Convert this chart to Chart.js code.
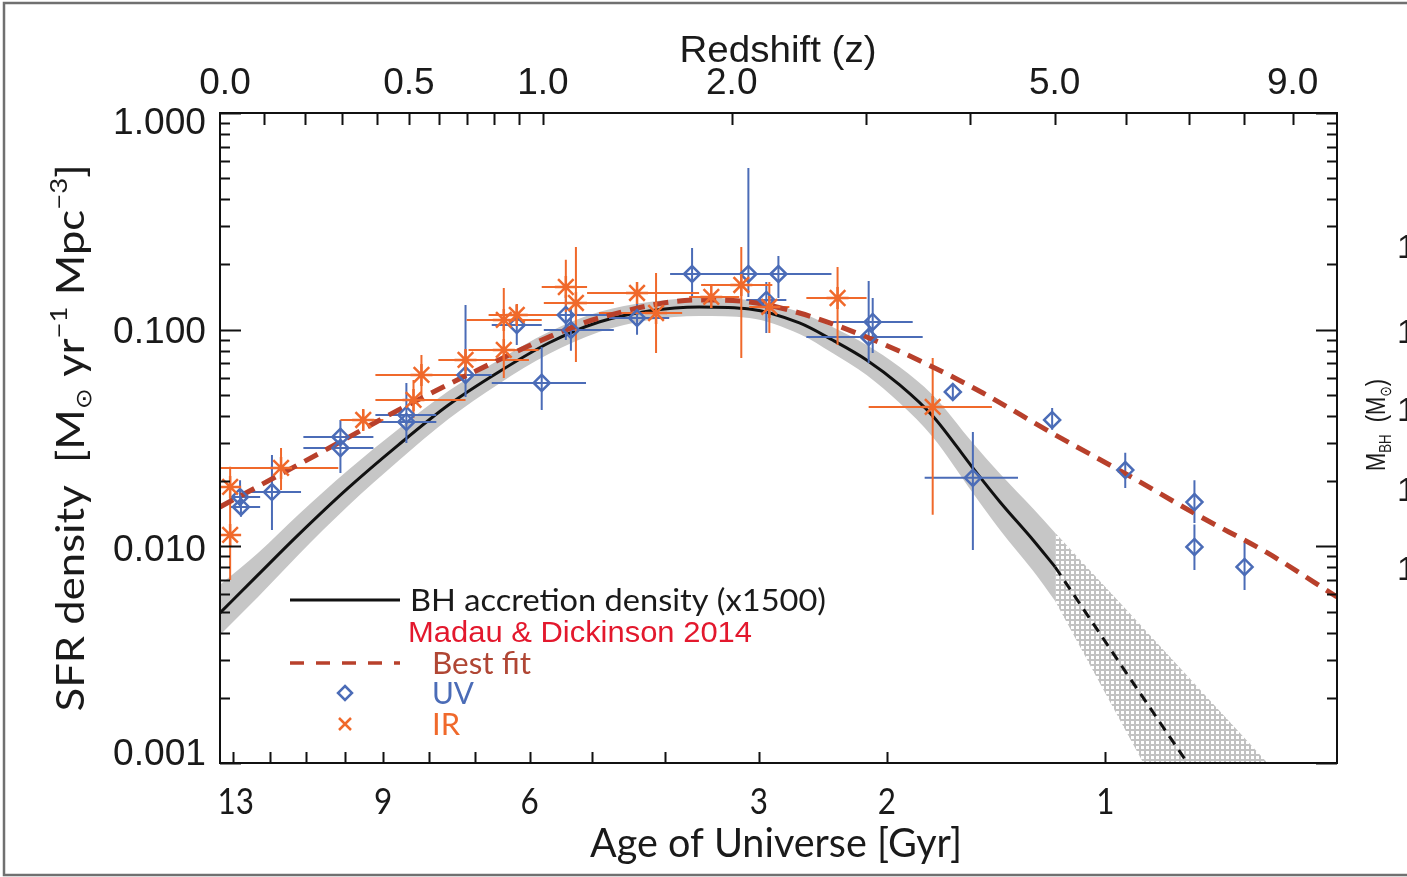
<!DOCTYPE html>
<html>
<head>
<meta charset="utf-8">
<script src="https://cdn.jsdelivr.net/npm/chart.js@4.4.1/dist/chart.umd.min.js"></script>
<style>
  html, body { margin: 0; padding: 0; background: #fff; }
  #chart { display: block; }
</style>
</head>
<body>
<canvas id="chart" width="1407" height="877"></canvas>
<script>
// ================= DATA (redshift z, SFR density) =================
// BH accretion density curve (x1500) and its grey band
const bhZ     = [0, 0.085, 0.183, 0.317, 0.467, 0.633, 0.819, 1.025, 1.256, 1.512, 1.797, 2.115, 2.469, 2.724, 3.007, 3.302, 3.618, 4.034, 4.336, 4.728, 5.006];
const bhVal   = [0.00493, 0.00738, 0.01129, 0.0186, 0.0294, 0.0449, 0.0638, 0.0868, 0.1085, 0.1220, 0.1273, 0.1246, 0.1074, 0.0896, 0.0725, 0.0556, 0.0400, 0.0230, 0.01603, 0.01070, 0.00803];
const bandUp  = [0.00664, 0.00932, 0.0140, 0.0225, 0.0348, 0.0521, 0.0725, 0.0976, 0.1207, 0.1342, 0.1401, 0.1371, 0.1207, 0.1029, 0.0850, 0.0673, 0.0500, 0.0300, 0.0216, 0.01495, 0.01154];
const bandLo  = [0.00390, 0.00584, 0.00913, 0.0154, 0.0248, 0.0387, 0.0562, 0.0772, 0.0976, 0.1109, 0.1157, 0.1132, 0.0955, 0.0780, 0.0618, 0.0459, 0.0320, 0.01763, 0.0119, 0.00771, 0.00560];
// extrapolated part (dashed) and hatched uncertainty
const bhExtZ    = [5.006, 6.0, 6.98];
const bhExtVal  = [0.00803, 0.0026, 0.001];
const hatchZ    = [5.006, 6.258, 8.476];
const hatchUp   = [0.01154, 0.0042, 0.001];
const hatchLo   = [0.00560, 0.001, 0.001];

// Madau & Dickinson 2014 best fit
const mdZ   = [0, 0.27, 0.467, 0.819, 1.101, 1.256, 1.797, 2.115, 2.469, 3.007, 3.618, 4.144, 4.942, 6.013, 7.204, 8.476, 10.0];
const mdVal = [0.0152, 0.0288, 0.0426, 0.0725, 0.0997, 0.1132, 0.1371, 0.1342, 0.1194, 0.0925, 0.0673, 0.0510, 0.0337, 0.0214, 0.0137, 0.00932, 0.00584];

// UV points
const uvZ    = [0.046, 0.044, 0.118, 0.295, 0.295, 0.492, 0.492, 0.694, 0.891, 0.995, 1.101, 1.124, 1.448, 1.755, 2.109, 2.316, 2.231, 3.060, 3.025, 3.822, 4.034, 4.968, 5.982, 7.10, 7.10, 8.02];
const uvVal  = [0.0152, 0.0169, 0.0178, 0.0320, 0.0284, 0.0404, 0.0375, 0.0618, 0.1051, 0.0568, 0.1169, 0.0997, 0.1132, 0.1807, 0.1807, 0.1807, 0.1371, 0.1085, 0.0925, 0.0516, 0.0207, 0.0383, 0.0225, 0.0160, 0.00994, 0.00803];
const uvZlo  = [0.022, 0.022, 0.055, 0.196, 0.196, 0.396, 0.396, 0.598, 0.792, 0.792, 1.004, 1.004, 1.305, 1.628, 1.828, 2.083, 2.095, 2.724, 2.521, 3.822, 3.539, 4.968, 5.982, 7.10, 7.10, 8.02];
const uvZhi  = [0.090, 0.090, 0.190, 0.390, 0.390, 0.591, 0.591, 0.792, 0.995, 1.194, 1.329, 1.329, 1.623, 1.921, 2.395, 2.716, 2.373, 3.424, 3.520, 3.822, 4.546, 4.968, 5.982, 7.10, 7.10, 8.02];
const uvLo   = [0.0137, 0.0152, 0.0119, 0.0264, 0.0218, 0.0337, 0.0300, 0.0489, 0.0850, 0.0426, 0.0896, 0.0800, 0.0948, 0.1416, 0.1416, 0.1400, 0.0965, 0.0780, 0.0702, 0.0484, 0.00962, 0.0345, 0.0186, 0.0128, 0.00778, 0.00629];
const uvHi   = [0.0170, 0.0202, 0.0264, 0.0383, 0.0345, 0.0568, 0.0460, 0.1300, 0.1300, 0.0832, 0.1446, 0.1250, 0.1328, 0.2380, 0.5570, 0.2188, 0.1660, 0.1400, 0.1678, 0.0558, 0.0337, 0.0435, 0.0270, 0.0202, 0.0126, 0.01037];

// IR points
const irZ    = [0.022, 0.022, 0.140, 0.360, 0.515, 0.541, 0.694, 0.839, 0.839, 0.891, 1.101, 1.147, 1.448, 1.550, 1.871, 2.062, 2.252, 2.765, 3.618];
const irVal  = [0.0188, 0.01129, 0.0230, 0.0383, 0.0474, 0.0618, 0.0725, 0.0806, 0.1109, 0.1169, 0.1574, 0.1328, 0.1477, 0.1194, 0.1416, 0.1608, 0.1273, 0.1400, 0.0440];
const irZlo  = [0.022, 0.022, 0.0, 0.295, 0.396, 0.396, 0.598, 0.705, 0.698, 0.780, 0.995, 1.004, 1.199, 1.256, 1.738, 1.809, 2.115, 2.521, 3.025];
const irZhi  = [0.022, 0.022, 0.289, 0.420, 0.694, 0.694, 0.941, 0.982, 0.995, 1.069, 1.199, 1.329, 1.797, 1.697, 2.049, 2.273, 2.395, 3.007, 4.244];
const irLo   = [0.0147, 0.0070, 0.0182, 0.0345, 0.0391, 0.0489, 0.0605, 0.0598, 0.0673, 0.1050, 0.1207, 0.0710, 0.1400, 0.0780, 0.1350, 0.0740, 0.0965, 0.0850, 0.0140];
const irHi   = [0.0233, 0.0147, 0.0284, 0.0426, 0.0586, 0.0764, 0.0806, 0.1051, 0.1558, 0.1300, 0.2100, 0.2407, 0.1600, 0.1826, 0.1480, 0.2407, 0.1660, 0.1947, 0.0740];

// axes
const zTicks      = [0.1, 0.2, 0.3, 0.4, 0.5, 0.6, 0.7, 0.8, 0.9, 1, 2, 3, 4, 5, 6, 7, 8, 9];
const zLabels     = ['0.0', '0.5', '1.0', '2.0', '5.0', '9.0'];
const zLabelAt    = [0, 0.5, 1, 2, 5, 9];
const ageTicks    = [13, 12, 11, 10, 9, 8, 7, 6, 5, 4, 3, 2, 1];
const ageTickZ    = [0.028, 0.113, 0.203, 0.308, 0.419, 0.567, 0.730, 0.944, 1.221, 1.598, 2.179, 3.186, 5.690];
const ageLabels   = ['13', '9', '6', '3', '2', '1'];
const yLabels     = ['1.000', '0.100', '0.010', '0.001'];

// ================= custom x scale: linear in log(1+z) =================
class RedshiftScale extends Chart.LinearScale {
  getPixelForValue(value) {
    const a = Math.log10(1 + this.min), b = Math.log10(1 + this.max);
    return this.getPixelForDecimal((Math.log10(1 + value) - a) / (b - a));
  }
  getValueForPixel(pixel) {
    const a = Math.log10(1 + this.min), b = Math.log10(1 + this.max);
    return Math.pow(10, a + this.getDecimalForPixel(pixel) * (b - a)) - 1;
  }
}
RedshiftScale.id = 'redshift';
RedshiftScale.defaults = Chart.LinearScale.defaults;
Chart.register(RedshiftScale);

const BLUE = '#4b6cb7';
const ORANGE = '#f0692b';
const BRICK = '#b8402b';
const SANS = '"Liberation Sans", Arial, sans-serif';
const CMS = 'Lato, "Noto Sans", sans-serif';

const pts = (xs, ys) => xs.map((x, i) => ({ x: x, y: ys[i] }));

function errorBars(z, v, zlo, zhi, lo, hi) {
  const out = [];
  z.forEach((zz, i) => {
    if (zhi[i] > zlo[i]) {
      out.push({ x: zlo[i], y: v[i] }, { x: zhi[i], y: v[i] }, { x: zhi[i], y: null });
    }
    out.push({ x: zz, y: lo[i] }, { x: zz, y: hi[i] }, { x: zz, y: null });
  });
  return out;
}

const ctx = document.getElementById('chart').getContext('2d');

// mesh pattern for the extrapolated region
const pc = document.createElement('canvas');
pc.width = 5; pc.height = 5;
const pctx = pc.getContext('2d');
pctx.fillStyle = '#c2c2c2';
pctx.fillRect(0, 0, 5, 5);
pctx.fillStyle = '#ffffff';
pctx.fillRect(1, 1, 3, 3);
const hatch = ctx.createPattern(pc, 'repeat');

const NONE = 'rgba(0,0,0,0)';

const datasets = [
  { label: 'band up', data: pts(bhZ, bandUp), showLine: true, borderColor: NONE, borderWidth: 0, pointRadius: 0,
    fill: 1, backgroundColor: '#c6c6c6', cubicInterpolationMode: 'monotone', order: 21 },
  { label: 'band lo', data: pts(bhZ, bandLo), showLine: true, borderColor: NONE, borderWidth: 0, pointRadius: 0,
    fill: false, cubicInterpolationMode: 'monotone', order: 22 },
  { label: 'hatch up', data: pts(hatchZ, hatchUp), showLine: true, borderColor: NONE, borderWidth: 0, pointRadius: 0,
    fill: 3, backgroundColor: hatch, order: 19 },
  { label: 'hatch lo', data: pts(hatchZ, hatchLo), showLine: true, borderColor: NONE, borderWidth: 0, pointRadius: 0,
    fill: false, order: 20 },
  { label: 'BH accretion density (x1500)', data: pts(bhZ, bhVal), showLine: true, borderColor: '#111', borderWidth: 3,
    pointRadius: 0, cubicInterpolationMode: 'monotone', order: 10 },
  { label: 'BH extrapolation', data: pts(bhExtZ, bhExtVal), showLine: true, borderColor: '#111', borderWidth: 3,
    borderDash: [10, 7], pointRadius: 0, order: 9 },
  { label: 'UV err', data: errorBars(uvZ, uvVal, uvZlo, uvZhi, uvLo, uvHi), showLine: true, spanGaps: false,
    borderColor: BLUE, borderWidth: 2, pointRadius: 0, order: 8 },
  { label: 'IR err', data: errorBars(irZ, irVal, irZlo, irZhi, irLo, irHi), showLine: true, spanGaps: false,
    borderColor: ORANGE, borderWidth: 2, pointRadius: 0, order: 7 },
  { label: 'Best fit', data: pts(mdZ, mdVal), showLine: true, borderColor: BRICK, borderWidth: 5,
    borderDash: [15, 9], pointRadius: 0, cubicInterpolationMode: 'monotone', order: 6 },
  { label: 'UV', data: pts(uvZ, uvVal), pointStyle: 'rectRot', pointRadius: 8, borderColor: BLUE,
    backgroundColor: NONE, borderWidth: 2.5, order: 4 },
  { label: 'IR', data: pts(irZ, irVal), pointStyle: 'star', pointRadius: 11, borderColor: ORANGE,
    backgroundColor: NONE, borderWidth: 2.5, order: 3 }
];

// ================= text helpers =================
function txt(c, s, x, y, o) {
  c.save();
  c.font = (o.weight || 400) + ' ' + o.size + 'px ' + o.family;
  c.fillStyle = o.color || '#111';
  c.textAlign = 'left';
  c.textBaseline = 'alphabetic';
  const w = c.measureText(s).width;
  const sx = o.width ? o.width / w : (o.sx || 1);
  let left = x;
  if (o.align === 'center') left = x - w * sx / 2;
  else if (o.align === 'right') left = x - w * sx;
  c.translate(left, y);
  c.scale(sx, 1);
  c.fillText(s, 0, 0);
  c.restore();
}

function rich(c, parts, x, y, o) {
  c.save();
  c.fillStyle = o.color || '#111';
  c.textAlign = 'left';
  c.textBaseline = 'alphabetic';
  const ws = parts.map(p => { c.font = p.size + 'px ' + (p.family || o.family); return c.measureText(p.t).width; });
  const total = ws.reduce((s, w) => s + w, 0);
  const sx = o.width ? o.width / total : 1;
  c.translate(x, y);
  if (o.rotate) c.rotate(o.rotate);
  c.scale(sx, 1);
  let cx = o.align === 'center' ? -total / 2 : 0;
  parts.forEach((p, i) => {
    c.font = p.size + 'px ' + (p.family || o.family);
    c.fillText(p.t, cx, p.dy || 0);
    cx += ws[i];
  });
  c.restore();
}

// ================= axes, labels, legend =================
const decor = {
  id: 'decor',
  afterDraw(chart) {
    const c = chart.ctx;
    const a = chart.chartArea;
    const xs = chart.scales.x, ys = chart.scales.y;
    c.save();

    // figure border
    c.strokeStyle = '#707070';
    c.lineWidth = 2.5;
    c.strokeRect(4, 3, 1430, 872);

    // plot frame
    c.strokeStyle = '#111';
    c.lineWidth = 2;
    c.strokeRect(a.left, a.top, a.right - a.left, a.bottom - a.top);

    c.beginPath();
    // y ticks, both sides
    [0.001, 0.01, 0.1].forEach(dec => {
      for (let k = 1; k <= 10; k++) {
        if (k === 1 && dec !== 0.001) continue;
        const py = Math.round(ys.getPixelForValue(k * dec)) + 0.5;
        const len = (k === 1 || k === 10) ? 21 : 10;
        c.moveTo(a.left, py); c.lineTo(a.left + len, py);
        c.moveTo(a.right, py); c.lineTo(a.right - len, py);
      }
    });
    // top redshift ticks
    zTicks.forEach(z => {
      const px = Math.round(xs.getPixelForValue(z)) + 0.5;
      c.moveTo(px, a.top); c.lineTo(px, a.top + 12);
    });
    // bottom age ticks
    ageTickZ.forEach(z => {
      const px = Math.round(xs.getPixelForValue(z)) + 0.5;
      c.moveTo(px, a.bottom); c.lineTo(px, a.bottom - 11);
    });
    c.stroke();

    // top labels
    zLabels.forEach((s, i) => {
      txt(c, s, xs.getPixelForValue(zLabelAt[i]) + (i === 0 ? 5 : 0), 94, { size: 37, family: SANS, align: 'center', color: '#1a1a1a' });
    });
    txt(c, 'Redshift (z)', 778, 62, { size: 37, family: SANS, align: 'center', width: 197, color: '#1a1a1a' });

    // left labels
    const yBase = [134, 343, 561, 765];
    yLabels.forEach((s, i) => {
      txt(c, s, 206, yBase[i], { size: 36, family: SANS, align: 'right', width: 93, color: '#1a1a1a' });
    });

    // bottom age labels
    ageLabels.forEach(s => {
      const i = ageTicks.indexOf(Number(s));
      const px = xs.getPixelForValue(ageTickZ[i]) + (s === '13' ? 3 : 0);
      txt(c, s, px, 814, { size: 37, family: CMS, align: 'center', sx: 0.85, color: '#1a1a1a' });
    });
    txt(c, 'Age of Universe [Gyr]', 776, 857, { size: 40, family: CMS, align: 'center', width: 372, color: '#1a1a1a' });

    // y title
    rich(c, [
      { t: 'SFR density  [M', size: 38 },
      { t: '\u2299', size: 22, dy: 7, family: '"DejaVu Sans"' },
      { t: ' yr', size: 38 },
      { t: '\u22121', size: 24, dy: -17 },
      { t: ' Mpc', size: 38 },
      { t: '\u22123', size: 24, dy: -17 },
      { t: ']', size: 38 }
    ], 84, 438, { family: CMS, rotate: -Math.PI / 2, align: 'center', width: 547, color: '#1a1a1a' });

    // right side (cut-off second axis)
    rich(c, [
      { t: 'M', size: 28 },
      { t: 'BH', size: 17, dy: 6 },
      { t: '  (M', size: 28 },
      { t: '\u2299', size: 16, dy: 6, family: '"DejaVu Sans"' },
      { t: ')', size: 28 }
    ], 1385, 425, { family: SANS, rotate: -Math.PI / 2, align: 'center', width: 92, color: '#1a1a1a' });
    [245, 330, 408, 488, 567].forEach(py => {
      txt(c, '10', 1397, py + 13, { size: 34, family: SANS, color: '#1a1a1a' });
    });

    // legend
    c.lineWidth = 3;
    c.strokeStyle = '#111';
    c.beginPath(); c.moveTo(290, 600); c.lineTo(400, 600); c.stroke();
    txt(c, 'BH accretion density (x1500)', 410, 611, { size: 31, family: CMS, width: 416, color: '#1a1a1a' });
    txt(c, 'Madau & Dickinson 2014', 408, 642, { size: 30, family: SANS, width: 344, color: '#e3182d' });
    c.strokeStyle = BRICK;
    c.lineWidth = 3.5;
    c.setLineDash([14, 12]);
    c.beginPath(); c.moveTo(290, 663); c.lineTo(400, 663); c.stroke();
    c.setLineDash([]);
    txt(c, 'Best fit', 432, 674, { size: 31, family: CMS, width: 99, color: '#b04634' });
    c.strokeStyle = BLUE;
    c.lineWidth = 2.5;
    c.beginPath();
    c.moveTo(345, 686); c.lineTo(352, 693); c.lineTo(345, 700); c.lineTo(338, 693); c.closePath();
    c.stroke();
    txt(c, 'UV', 432, 704, { size: 31, family: CMS, width: 42, color: BLUE });
    c.strokeStyle = ORANGE;
    c.beginPath();
    c.moveTo(339, 718); c.lineTo(351, 730); c.moveTo(351, 718); c.lineTo(339, 730);
    c.stroke();
    txt(c, 'IR', 432, 735, { size: 31, family: CMS, width: 28, color: ORANGE });

    c.restore();
  }
};

new Chart(ctx, {
  type: 'scatter',
  data: { datasets: datasets },
  options: {
    responsive: false,
    animation: false,
    layout: { padding: { left: 220, right: 70, top: 113, bottom: 114 } },
    scales: {
      x: { type: 'redshift', min: 0, max: 10, display: false },
      y: { type: 'logarithmic', min: 0.001, max: 1, display: false }
    },
    plugins: { legend: { display: false }, tooltip: { enabled: false } }
  },
  plugins: [decor]
});
</script>
</body>
</html>
